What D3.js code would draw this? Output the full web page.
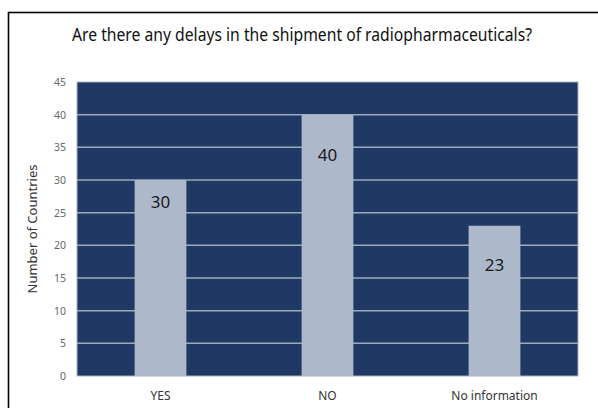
<!DOCTYPE html>
<html>
<head>
<meta charset="utf-8">
<script src="https://cdnjs.cloudflare.com/ajax/libs/d3/7.8.5/d3.min.js"></script>
<style>
body { margin: 0; background: #fff; }
text { font-family: "Noto Sans", sans-serif; }
</style>
</head>
<body>
<script>
// data
var categories = ["YES", "NO", "No information"];
var values = [30, 40, 23];
var yTicks = [0, 5, 10, 15, 20, 25, 30, 35, 40, 45];
var title = "Are there any delays in the shipment of radiopharmaceuticals?";
var yTitle = "Number of Countries";

var width = 598;
var height = 408;

var margin = {
    top: 82,
    bottom: 32,
    left: 77,
    right: 20,
}

var svg = d3.select("body")
    .append("svg")
    .attr("width", width)
    .attr("height", height);

// frame round the chart (runs off the picture right and bottom)
svg.append("rect")
    .attr("x", 8.5)
    .attr("y", 12.5)
    .attr("width", 600)
    .attr("height", 420)
    .attr("fill", "none")
    .attr("stroke", "#000")
    .attr("stroke-width", 1.6);

svg.append("text")
    .attr("x", 72)
    .attr("y", 41)
    .attr("font-size", 17.5)
    .attr("fill", "#111")
    .attr("textLength", 460)
    .attr("lengthAdjust", "spacingAndGlyphs")
    .text(title);

var innerW = width - margin.left - margin.right;
var innerH = height - margin.top - margin.bottom;

var g = svg.append("g")
    .attr("transform", "translate(" + margin.left + "," + margin.top + ")");

var x = d3.scaleBand()
    .domain(categories)
    .range([0, innerW])
    .paddingInner(0.69)
    .paddingOuter(0.345);

var y = d3.scaleLinear()
    .domain([0, 45])
    .range([innerH, 0]);

// plot background
g.append("rect")
    .attr("width", innerW)
    .attr("height", innerH)
    .attr("fill", "#203864")
    .attr("stroke", "#a9b3c4")
    .attr("stroke-width", 1);

// gridlines
g.selectAll(".grid")
    .data(yTicks.filter(function(d){ return d > 0 && d < 45; }))
    .enter()
    .append("line")
    .attr("class", "grid")
    .attr("x1", 0)
    .attr("x2", innerW)
    .attr("y1", function(d){ return y(d); })
    .attr("y2", function(d){ return y(d); })
    .attr("stroke", "#9ea9bd")
    .attr("stroke-width", 1.5);

// y axis labels
var yAxis = d3.axisLeft(y)
    .tickValues(yTicks)
    .tickSize(0)
    .tickPadding(11);

var ya = g.append("g").call(yAxis);
ya.select(".domain").remove();
ya.selectAll("text")
    .attr("font-size", 10.5)
    .attr("fill", "#666")
    .style("font-family", '"Noto Sans", sans-serif');

// x axis labels
var xAxis = d3.axisBottom(x)
    .tickSize(0)
    .tickPadding(15);

var xa = g.append("g")
    .attr("transform", "translate(0," + innerH + ")")
    .call(xAxis);
xa.select(".domain").remove();
xa.selectAll("text")
    .attr("font-size", 12)
    .attr("fill", "#333")
    .style("font-family", '"Noto Sans", sans-serif');

// bars
g.selectAll(".bar")
    .data(values)
    .enter()
    .append("rect")
    .attr("class", "bar")
    .attr("x", function(d, i){ return x(categories[i]); })
    .attr("y", function(d){ return y(d); })
    .attr("width", x.bandwidth())
    .attr("height", function(d){ return innerH - y(d); })
    .attr("fill", "#adb9ca");

// value labels inside the bars
var labelDy = [28, 46, 45];
g.selectAll(".val")
    .data(values)
    .enter()
    .append("text")
    .attr("class", "val")
    .attr("x", function(d, i){ return x(categories[i]) + x.bandwidth() / 2; })
    .attr("y", function(d, i){ return y(d) + labelDy[i]; })
    .attr("text-anchor", "middle")
    .attr("font-size", 17)
    .attr("fill", "#1a1a1a")
    .text(function(d){ return d; });

// y axis title
svg.append("text")
    .attr("transform", "translate(37," + (margin.top + innerH / 2) + ") rotate(-90)")
    .attr("text-anchor", "middle")
    .attr("font-size", 13)
    .attr("fill", "#333")
    .text(yTitle);
</script>
</body>
</html>
